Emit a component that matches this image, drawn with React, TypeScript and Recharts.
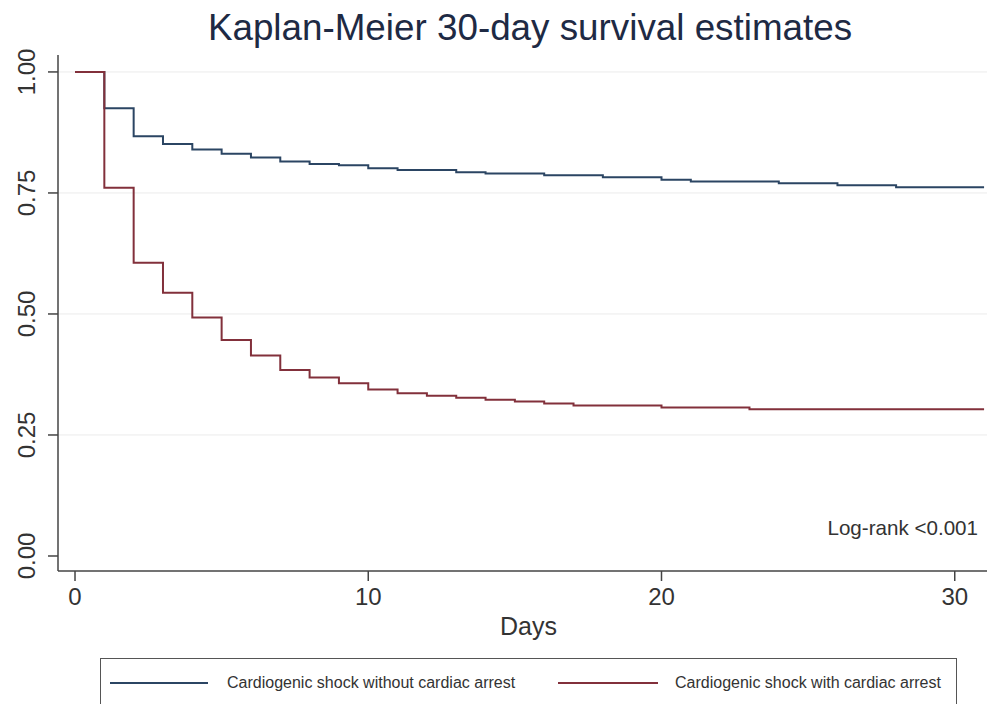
import React from 'react';
import { LineChart, Line, XAxis, YAxis, CartesianGrid, Legend } from 'recharts';

const days = [0, 1, 2, 3, 4, 5, 6, 7, 8, 9, 10, 11, 12, 13, 14, 15, 16, 17, 18, 19, 20, 21, 22, 23, 24, 25, 26, 27, 28, 29, 30, 31];
const withoutArrest = [1.0, 0.925, 0.867, 0.851, 0.84, 0.831, 0.823, 0.815, 0.81, 0.807, 0.801, 0.7975, 0.7975, 0.793, 0.79, 0.79, 0.7865, 0.7865, 0.7825, 0.7825, 0.7775, 0.7735, 0.7735, 0.7735, 0.77, 0.77, 0.766, 0.766, 0.762, 0.762, 0.762, 0.762];
const withArrest = [1.0, 0.761, 0.606, 0.544, 0.4925, 0.446, 0.414, 0.384, 0.369, 0.357, 0.344, 0.336, 0.331, 0.327, 0.323, 0.319, 0.315, 0.311, 0.311, 0.311, 0.307, 0.307, 0.307, 0.303, 0.303, 0.303, 0.303, 0.303, 0.303, 0.303, 0.303, 0.303];
const xTicks = [0, 10, 20, 30];
const yTicks = [0, 0.25, 0.5, 0.75, 1];
const seriesNames = ['Cardiogenic shock without cardiac arrest', 'Cardiogenic shock with cardiac arrest'];
const titleText = 'Kaplan-Meier 30-day survival estimates';
const noteText = 'Log-rank <0.001';

const BLUE = '#2b4563';
const RED = '#82303b';
const FONT = '"Liberation Sans", Arial, sans-serif';

const data = days.map((d, i) => ({ day: d, without: withoutArrest[i], withA: withArrest[i] }));

const YTick = (props: any) => {
  const { x, y, payload } = props;
  return (
    <text
      x={x}
      y={y}
      transform={`rotate(-90 ${x} ${y})`}
      textAnchor="middle"
      fill="#333"
      fontSize={24}
      fontFamily={FONT}
    >
      {Number(payload.value).toFixed(2)}
    </text>
  );
};

const LegendBox = () => (
  <div
    style={{
      position: 'relative',
      width: 857,
      height: 60,
      border: '1.5px solid #555',
      boxSizing: 'border-box',
      background: '#fff',
      fontFamily: FONT,
      fontSize: 16,
      color: '#333',
    }}
  >
    <div style={{ position: 'absolute', left: 9, top: 23, width: 98, height: 0, borderTop: `2px solid ${BLUE}` }} />
    <div style={{ position: 'absolute', left: 126, top: 14, whiteSpace: 'nowrap', lineHeight: '20px' }}>{seriesNames[0]}</div>
    <div style={{ position: 'absolute', left: 457, top: 23, width: 100, height: 0, borderTop: `2px solid ${RED}` }} />
    <div style={{ position: 'absolute', left: 574, top: 14, whiteSpace: 'nowrap', lineHeight: '20px' }}>{seriesNames[1]}</div>
  </div>
);

export default function App() {
  return (
    <div style={{ position: 'absolute', left: 0, top: 0, width: 989, height: 704, overflow: 'hidden', background: '#fff' }}>
      <LineChart width={989} height={704} data={data} margin={{ top: 55, right: 2, left: 0, bottom: 58 }}>
        <CartesianGrid horizontal vertical={false} horizontalValues={[0.25, 0.5, 0.75, 1]} stroke="#ebebeb" strokeWidth={1} />
        <XAxis
          dataKey="day"
          type="number"
          domain={[-0.58, 31.1]}
          allowDataOverflow
          ticks={xTicks}
          height={75}
          tickSize={10}
          tickMargin={7}
          stroke="#444"
          strokeWidth={1.5}
          tick={{ fill: '#333', fontSize: 24, fontFamily: FONT }}
          label={{ value: 'Days', position: 'insideBottom', offset: 11, fontSize: 25, fill: '#333', fontFamily: FONT, dx: 6 }}
        />
        <YAxis
          type="number"
          domain={[-0.031, 1.035]}
          allowDataOverflow
          ticks={yTicks}
          width={58}
          tickSize={10}
          tickMargin={13}
          stroke="#444"
          strokeWidth={1.5}
          tick={<YTick />}
        />
        <Line type="stepAfter" dataKey="without" name={seriesNames[0]} stroke={BLUE} strokeWidth={2} dot={false} isAnimationActive={false} />
        <Line type="stepAfter" dataKey="withA" name={seriesNames[1]} stroke={RED} strokeWidth={2} dot={false} isAnimationActive={false} />
        <Legend
          layout="horizontal"
          verticalAlign="middle"
          align="center"
          content={() => <LegendBox />}
          wrapperStyle={{ left: 100, top: 658, width: 857, height: 60 }}
        />
        <text x={530} y={40} textAnchor="middle" fontSize={36.8} fill="#1e2a44" fontFamily={FONT}>
          {titleText}
        </text>
        <text x={978} y={535} textAnchor="end" fontSize={20.6} fill="#333" fontFamily={FONT}>
          {noteText}
        </text>
      </LineChart>
    </div>
  );
}
